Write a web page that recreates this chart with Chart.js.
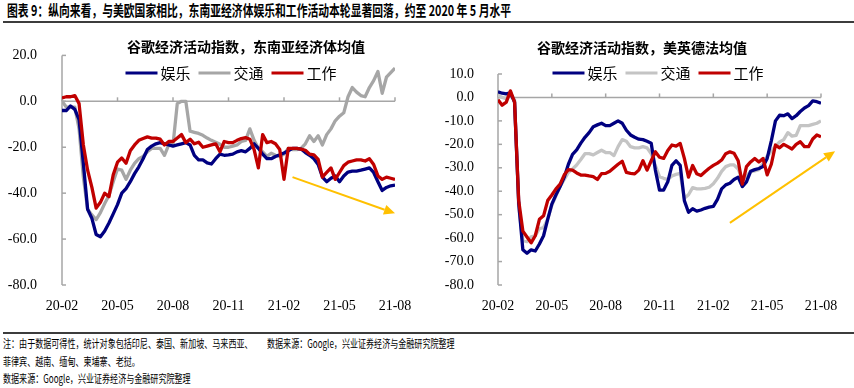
<!DOCTYPE html>
<html>
<head>
<meta charset="utf-8">
<script src="https://cdn.jsdelivr.net/npm/chart.js@4.4.1/dist/chart.umd.min.js"></script>
<style>
body { margin:0; width:854px; height:388px; position:relative; overflow:hidden; background:#fff; font-family:"Noto Sans CJK SC", sans-serif; color:#000; }
.txt { position:absolute; white-space:nowrap; transform-origin:0 50%; }
#title { left:7px; top:2px; font-size:15px; font-weight:bold; line-height:16px; transform:scaleX(0.72); }
.rule { position:absolute; left:3px; right:0; height:2px; background:#3c3c3c; }
.note { font-size:11.5px; line-height:14px; transform:scaleX(0.7); }
canvas { position:absolute; top:30px; }
</style>
</head>
<body>
<div id="title" class="txt">图表 9：纵向来看，与美欧国家相比，东南亚经济体娱乐和工作活动本轮显著回落，约至 2020 年 5 月水平</div>
<div class="rule" style="top:21px"></div>
<canvas id="sea" width="420" height="290" style="left:0"></canvas>
<canvas id="eu" width="434" height="290" style="left:420px"></canvas>
<div class="rule" style="top:332px"></div>
<div class="txt note" style="left:3px;top:336px">注：由于数据可得性，统计对象包括印尼、泰国、新加坡、马来西亚、</div>
<div class="txt note" style="left:267px;top:336px">数据来源：Google，兴业证券经济与金融研究院整理</div>
<div class="txt note" style="left:3px;top:354px">菲律宾、越南、缅甸、柬埔寨、老挝。</div>
<div class="txt note" style="left:3px;top:371px">数据来源：Google，兴业证券经济与金融研究院整理</div>

<script>
// x axis: weekly points, one tick label every 13 weeks (3 months)
const tickLabels = ['20-02', '20-05', '20-08', '20-11', '21-02', '21-05', '21-08'];
const seriesNames = ['娱乐', '交通', '工作'];

// 东南亚经济体均值
const seaLeisure = [
  -4, -4, -2, -3.5, -8, -27, -47, -51, -58, -59,
  -56.5, -53, -49, -45, -40, -38, -35, -31.5, -28.5, -25,
  -21, -19.5, -18.5, -18, -18.5, -19, -19.5, -19, -18.5, -18,
  -19, -23.5, -25.5, -25.5, -26.8, -27.3, -25, -23, -23.5, -23.3,
  -23, -22, -21.5, -22, -20.5, -18.5, -20.5, -23, -25, -25,
  -24, -23.3, -22.5, -21.5, -20.5, -20.5, -20.8, -22.3, -23.5, -25,
  -27.5, -33, -35, -33.5, -32.5, -35, -32.5, -30.8, -30.4, -30.4,
  -30, -29.5, -29, -31, -35, -38.8, -37.5, -36.8, -36.5
];
const seaTransit = [
  0, -2.5, -2.5, -2.5, -12, -33, -47, -49.5, -51.5, -48.5,
  -44.5, -41, -35, -29.5, -30, -34, -30, -27, -25, -24,
  -22, -20.5, -20.5, -20.5, -23.5, -19, -19, -1, 0, 0,
  -13, -13.5, -14, -14.8, -16, -17, -17.8, -18.7, -20, -20,
  -19.5, -19, -17.5, -17, -12, -17, -20.5, -22, -24, -22.6,
  -23.5, -24, -23, -20.5, -21, -21, -20.5, -18.5, -15, -17.5,
  -15, -19, -14.5, -12, -8.5, -6.5, -5, 2, 6, 4,
  2.5, 2, 6, 9, 13, 3.5, 10.5, 12.5, 14.5
];
const seaWork = [
  1.5, 2, 2, 2.5, -1, -19, -30, -37.5, -46.5, -44,
  -40, -41.5, -32, -26.5, -24.7, -27, -21.5, -19, -17, -16.2,
  -15.5, -16, -16, -16.5, -19, -17.5, -17.5, -16, -14.5, -18,
  -16.5, -18.5, -17.8, -20, -19.5, -19, -18.5, -22, -17.5, -18,
  -18, -17, -16.2, -15.8, -16.5, -21, -29, -14.5, -18, -17.5,
  -18.5, -21, -34, -20.5, -20.5, -20.5, -20.8, -21.3, -23, -23.3,
  -25.3, -33, -31, -29, -34, -31, -28, -26.5, -26, -25.5,
  -25.5, -26, -25, -27.5, -32.5, -34, -33, -33.5, -34
];

// 美英德法均值
const euLeisure = [
  2.4, 1.8, 1.5, 2, -2, -45, -65, -66.5, -65, -65.5,
  -62.5, -59, -52, -45.5, -41.5, -38, -34, -28.5, -24.3, -22.4,
  -19.5, -17, -15, -12.5, -11.7, -11, -12, -12, -11, -10,
  -11, -14, -16, -17, -17.8, -18, -18.7, -19.5, -31, -39.5,
  -39.5, -36, -29, -27, -29, -44, -49, -47.5, -48.5, -48,
  -47.3, -46.8, -46.5, -43.5, -39, -37.3, -36.6, -35, -34, -38,
  -36, -31.5, -30.8, -30.3, -29.5, -26, -18.5, -10, -7.6, -7.8,
  -7, -9, -7.8, -6, -4.5, -3.5, -1.5, -1.8, -2.5
];
const euTransit = [
  1, 0, -0.5, 1.5, -1, -47, -61, -61.5, -59.5, -59,
  -56, -55.5, -52, -46, -42, -38, -35, -32, -30.5, -28.8,
  -26.5, -24, -24, -24.5, -23.5, -22.5, -23.5, -23.5, -24.8, -21,
  -18, -18.7, -21, -21.5, -21.5, -21, -21.5, -24, -29, -33.8,
  -34.5, -35, -33.5, -32.8, -32.4, -43, -41.5, -38.5, -39, -39,
  -38.8, -38.3, -36.8, -34.5, -31.5, -29.5, -28.8, -28.8, -30.5, -35,
  -33.5, -31.7, -31.3, -30.8, -28, -25, -23, -20.8, -19, -18,
  -15, -16.5, -16.2, -12, -12, -12, -11.5, -11, -10
];
const euWork = [
  -1, -3.3, -2, 2.8, -2, -44, -57, -59.5, -62, -59,
  -52, -50.5, -44, -41.6, -39, -37, -33, -30.8, -31, -32.2,
  -33.1, -33.1, -33.5, -33.8, -35, -32.5, -32.4, -31.5, -30, -28.5,
  -27.2, -32, -32.4, -32.6, -31, -27, -31, -27, -23.2, -25.5,
  -26, -22.6, -20.3, -20.8, -19.6, -26, -34, -29, -32.5, -33.3,
  -31.7, -30.2, -29, -28, -26.7, -24, -23.2, -23.8, -27, -37,
  -29.5, -27.5, -26, -27.5, -26, -33, -28.5, -20.3, -21.5, -20,
  -21, -22, -20, -18.9, -21, -21, -17.7, -16, -16.8
];

// trend arrows, in data units [week, value]
const seaArrow = [[54, -33], [78, -48.8]];
const euArrow = [[56, -53.5], [81.4, -22.9]];

const weeks = seaLeisure.map((v, i) => i);

const navy = '#000080';
const red = '#C00000';
const axisGray = '#A6A6A6';
const arrowColor = '#FFC000';
const tickFont = { family: 'Liberation Serif', size: 14 };

function seg(ctx, x1, y1, x2, y2) {
  ctx.beginPath();
  ctx.moveTo(x1, y1);
  ctx.lineTo(x2, y2);
  ctx.stroke();
}

const decor = {
  id: 'decor',
  beforeDatasetsDraw(chart) {
    const { ctx, chartArea: a, scales: { x, y } } = chart;
    const y0 = y.getPixelForValue(0);
    ctx.save();
    ctx.strokeStyle = axisGray;
    ctx.lineWidth = 1.5;
    seg(ctx, a.left, a.top, a.left, a.bottom);
    seg(ctx, a.left, y0, a.right, y0);
    x.ticks.forEach(t => {
      const px = x.getPixelForValue(t.value);
      seg(ctx, px, y0, px, y0 - 4);
    });
    y.ticks.forEach(t => {
      const py = y.getPixelForValue(t.value);
      seg(ctx, a.left, py, a.left + 4, py);
    });
    ctx.restore();
  },
  afterDatasetsDraw(chart, args, o) {
    const { ctx, scales: { x, y } } = chart;
    const x1 = x.getPixelForValue(o.arrow[0][0]), y1 = y.getPixelForValue(o.arrow[0][1]);
    const x2 = x.getPixelForValue(o.arrow[1][0]), y2 = y.getPixelForValue(o.arrow[1][1]);
    const ang = Math.atan2(y2 - y1, x2 - x1);
    const len = 11, half = 5;
    ctx.save();
    ctx.strokeStyle = arrowColor;
    ctx.fillStyle = arrowColor;
    ctx.lineWidth = 2;
    seg(ctx, x1, y1, x2 - Math.cos(ang) * len, y2 - Math.sin(ang) * len);
    ctx.beginPath();
    ctx.moveTo(x2, y2);
    ctx.lineTo(x2 - Math.cos(ang) * len + Math.sin(ang) * half, y2 - Math.sin(ang) * len - Math.cos(ang) * half);
    ctx.lineTo(x2 - Math.cos(ang) * len - Math.sin(ang) * half, y2 - Math.sin(ang) * len + Math.cos(ang) * half);
    ctx.closePath();
    ctx.fill();
    ctx.restore();
  },
  afterDraw(chart, args, o) {
    const ctx = chart.ctx;
    ctx.save();
    ctx.fillStyle = '#000';
    ctx.textBaseline = 'middle';
    ctx.textAlign = 'center';
    ctx.font = 'bold 14px "Noto Sans CJK SC"';
    ctx.fillText(o.title, o.titleX, o.titleY);

    // legend: short thick line + label
    ctx.font = '15px "Noto Sans CJK SC"';
    ctx.textAlign = 'left';
    const items = chart.data.datasets.map(d => ({
      label: d.label, color: d.borderColor, w: 35 + ctx.measureText(d.label).width
    }));
    const gap = 8;
    const total = items.reduce((s, it) => s + it.w, 0) + gap * (items.length - 1);
    let lx = o.legendX - total / 2;
    items.forEach(it => {
      ctx.strokeStyle = it.color;
      ctx.lineWidth = 3;
      seg(ctx, lx, o.legendY, lx + 32, o.legendY);
      ctx.fillText(it.label, lx + 35, o.legendY);
      lx += it.w + gap;
    });
    ctx.restore();
  }
};

function makeChart(id, cfg) {
  const colors = [navy, cfg.gray, red];
  const order = [2, 3, 1];
  return new Chart(document.getElementById(id), {
    type: 'line',
    data: {
      datasets: cfg.values.map((vals, i) => ({
        label: seriesNames[i],
        data: vals.map((v, j) => ({ x: weeks[j], y: v })),
        borderColor: colors[i],
        backgroundColor: colors[i],
        borderWidth: 3.3,
        pointRadius: 0,
        tension: 0,
        borderJoinStyle: 'round',
        order: order[i]
      }))
    },
    options: {
      responsive: false,
      animation: false,
      layout: { padding: { top: cfg.top, right: cfg.right, left: 0, bottom: 0 } },
      plugins: {
        legend: { display: false },
        tooltip: { enabled: false },
        decor: cfg.decor
      },
      scales: {
        x: {
          type: 'linear', min: 0, max: 78,
          grid: { display: false }, border: { display: false },
          ticks: {
            stepSize: 13, autoSkip: false, maxRotation: 0, padding: 5,
            color: '#000', font: tickFont,
            callback: v => tickLabels[v / 13]
          },
          afterFit: s => { s.height = 35; }
        },
        y: {
          min: cfg.min, max: cfg.max,
          grid: { display: false }, border: { display: false },
          ticks: {
            stepSize: cfg.step, padding: cfg.yPad,
            color: '#000', font: tickFont,
            callback: v => v.toFixed(1)
          },
          afterFit: s => { s.width = cfg.yWidth; }
        }
      }
    },
    plugins: [decor]
  });
}

makeChart('sea', {
  values: [seaLeisure, seaTransit, seaWork],
  gray: '#A6A6A6',
  min: -80, max: 20, step: 20,
  top: 23, right: 25, yWidth: 62, yPad: 17,
  decor: { title: '谷歌经济活动指数，东南亚经济体均值', titleX: 246, titleY: 17, legendX: 231, legendY: 43, arrow: seaArrow }
});

makeChart('eu', {
  values: [euLeisure, euTransit, euWork],
  gray: '#C4C4C4',
  min: -80, max: 10, step: 10,
  top: 44, right: 33, yWidth: 78, yPad: 16,
  decor: { title: '谷歌经济活动指数，美英德法均值', titleX: 222, titleY: 18, legendX: 238, legendY: 43, arrow: euArrow }
});
</script>
</body>
</html>
